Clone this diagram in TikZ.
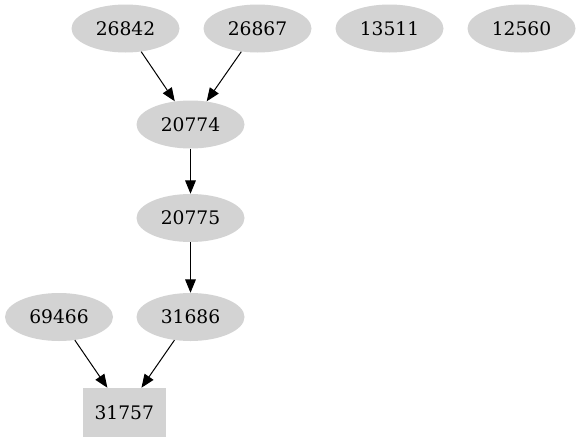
\documentclass[tikz,border=0pt]{standalone}
\usepackage{fontspec}
\setmainfont{DejaVu Serif}
\usetikzlibrary{shapes.geometric,arrows.meta}
\definecolor{gvgray}{HTML}{D3D3D3}
\tikzset{
  gvnode/.style={ellipse, fill=gvgray, draw=none, minimum width=81pt, minimum height=36pt, inner sep=0pt, font=\fontsize{14pt}{16pt}\selectfont},
  gvbox/.style={rectangle, fill=gvgray, draw=none, minimum width=62.25pt, minimum height=36.75pt, inner sep=0pt, font=\fontsize{14pt}{16pt}\selectfont},
  gvedge/.style={-{Triangle[length=10pt,width=8pt]}, line width=0.75pt, black, shorten <=0pt}
}
\begin{document}
\begin{tikzpicture}[x=0.75pt,y=-0.75pt]
\useasboundingbox (0,0) rectangle (581,443);
\node[gvnode] (n26842) at (125.5,28.5) {26842};
\node[gvnode] (n26867) at (257.5,28.5) {26867};
\node[gvnode] (n13511) at (389.5,28.5) {13511};
\node[gvnode] (n12560) at (521.5,28.5) {12560};
\node[gvnode] (n20774) at (190.5,124.5) {20774};
\node[gvnode] (n20775) at (190.5,218) {20775};
\node[gvnode] (n31686) at (190.5,317) {31686};
\node[gvnode] (n69466) at (59,317) {69466};
\node[gvbox] (n31757) at (124.3,412.5) {31757};
\draw[gvedge] (n26842) -- (n20774);
\draw[gvedge] (n26867) -- (n20774);
\draw[gvedge] (n20774) -- (n20775);
\draw[gvedge] (n20775) -- (n31686);
\draw[gvedge] (n69466) -- (n31757);
\draw[gvedge] (n31686) -- (n31757);
\end{tikzpicture}
\end{document}
